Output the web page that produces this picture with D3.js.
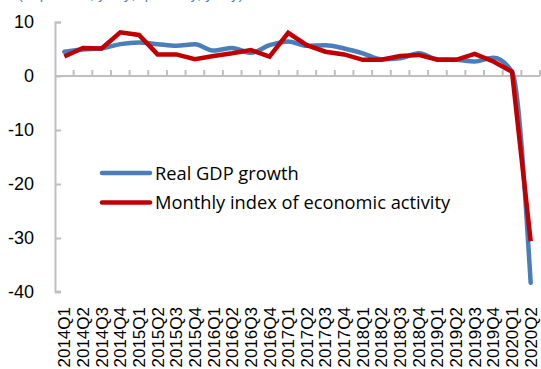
<!DOCTYPE html>
<html>
<head>
<meta charset="utf-8">
<script src="https://cdn.jsdelivr.net/npm/d3@7"></script>
<style>
  body { margin: 0; background: #fff; }
  svg { display: block; }
</style>
</head>
<body>
<div id="chart"></div>
<script>
// data
var quarters = ["2014Q1","2014Q2","2014Q3","2014Q4","2015Q1","2015Q2","2015Q3","2015Q4",
  "2016Q1","2016Q2","2016Q3","2016Q4","2017Q1","2017Q2","2017Q3","2017Q4",
  "2018Q1","2018Q2","2018Q3","2018Q4","2019Q1","2019Q2","2019Q3","2019Q4",
  "2020Q1","2020Q2"];
var gdpGrowth = [4.5, 4.9, 5.1, 5.9, 6.2, 5.9, 5.6, 5.9, 4.7, 5.2, 4.3, 5.7,
  6.4, 5.6, 5.7, 5.1, 4.2, 3.1, 3.3, 4.2, 3.1, 3.0, 2.7, 3.4, 0.8, -38.3];
var monthlyIndex = [3.6, 5.2, 5.1, 8.1, 7.6, 4.0, 4.0, 3.1, 3.7, 4.2, 4.8, 3.6,
  8.0, 5.7, 4.5, 4.0, 3.0, 3.0, 3.7, 3.9, 3.0, 3.0, 4.1, 2.7, 0.8, -30.6];
var yTicks = [10, 0, -10, -20, -30, -40];
var seriesNames = ["Real GDP growth", "Monthly index of economic activity"];

var W = 541, H = 369;
var margin = {top: 22, right: 1, bottom: 77, left: 55},
    width = W - margin.left - margin.right,
    height = H - margin.top - margin.bottom;

var svg = d3.select("#chart").append("svg")
    .attr("width", W)
    .attr("height", H);

// subtitle cut off at the very top, only its descenders show
svg.append("text")
    .attr("x", 18)
    .attr("y", -1)
    .attr("fill", "#4f81bd")
    .style("font-family", "'Liberation Sans', Arial, sans-serif")
    .style("font-size", "15px")
    .text("(In percent, y-o-y; quarterly, y-o-y)");

var g = svg.append("g")
    .attr("transform", "translate(" + margin.left + "," + margin.top + ")");

var x = d3.scaleBand().domain(quarters).range([0, width]);
var y = d3.scaleLinear().domain([-40, 10]).range([height, 0]);
var xc = function(d) { return x(d) + x.bandwidth() / 2; };

var axisColor = "#bfbfbf";

// y axis: line with inward ticks
var yAxis = g.append("g").call(d3.axisRight(y).tickValues(yTicks).tickSize(6).tickFormat(""));
yAxis.select(".domain").attr("d", "M6,0.5H0.5V" + (height - 0.5) + "H6");
yAxis.selectAll("line, path").attr("stroke", axisColor).attr("stroke-width", 2);

g.selectAll(".ylab")
    .data(yTicks)
    .enter().append("text")
    .attr("class", "ylab")
    .attr("x", -21)
    .attr("y", function(d) { return y(d); })
    .attr("dy", "0.36em")
    .attr("text-anchor", "end")
    .style("font-family", "'Liberation Sans', Arial, sans-serif")
    .style("font-size", "18px")
    .attr("fill", "#000")
    .text(function(d) { return d; });

// x axis at zero, ticks pointing up at the category boundaries
var bounds = quarters.map(function(d) { return x(d) + x.bandwidth(); });
var xAxis = g.append("g").attr("transform", "translate(0," + y(0) + ")");
xAxis.append("line")
    .attr("x1", 0).attr("x2", width)
    .attr("stroke", axisColor).attr("stroke-width", 2);
xAxis.selectAll(".xtick")
    .data(bounds)
    .enter().append("line")
    .attr("class", "xtick")
    .attr("x1", function(d) { return d; })
    .attr("x2", function(d) { return d; })
    .attr("y1", 0).attr("y2", -6)
    .attr("stroke", axisColor).attr("stroke-width", 2);

// rotated category labels below the plot
g.selectAll(".xlab")
    .data(quarters)
    .enter().append("text")
    .attr("class", "xlab")
    .attr("transform", function(d) { return "translate(" + (xc(d) + 6) + "," + (height + 15) + ") rotate(-90)"; })
    .attr("text-anchor", "end")
    .style("font-family", "'Liberation Sans', Arial, sans-serif")
    .style("font-size", "17px")
    .attr("fill", "#000")
    .text(function(d) { return d; });

// lines
var gdpLine = d3.line()
    .x(function(d, i) { return xc(quarters[i]); })
    .y(function(d) { return y(d); })
    .curve(d3.curveMonotoneX);
var idxLine = d3.line()
    .x(function(d, i) { return xc(quarters[i]); })
    .y(function(d) { return y(d); });

g.append("path")
    .attr("d", gdpLine(gdpGrowth))
    .attr("fill", "none")
    .attr("stroke", "#4a7ebb")
    .attr("stroke-width", 4.5)
    .attr("stroke-linecap", "round");

g.append("path")
    .attr("d", idxLine(monthlyIndex))
    .attr("fill", "none")
    .attr("stroke", "#c00000")
    .attr("stroke-width", 4.5)
    .attr("stroke-linejoin", "miter")
    .attr("stroke-linecap", "butt");

// legend
var legendColors = ["#4a7ebb", "#c00000"];
var legend = svg.append("g").attr("transform", "translate(102,173)");
var items = legend.selectAll("g")
    .data(seriesNames)
    .enter().append("g")
    .attr("transform", function(d, i) { return "translate(0," + (i * 29.6) + ")"; });
items.append("line")
    .attr("x1", 0).attr("x2", 48)
    .attr("stroke", function(d, i) { return legendColors[i]; })
    .attr("stroke-width", 4.5)
    .attr("stroke-linecap", "round");
items.append("text")
    .attr("x", 53)
    .attr("dy", "0.36em")
    .style("font-family", "'Open Sans', sans-serif")
    .style("font-size", "18.3px")
    .attr("fill", "#000")
    .text(function(d) { return d; });
</script>
</body>
</html>
